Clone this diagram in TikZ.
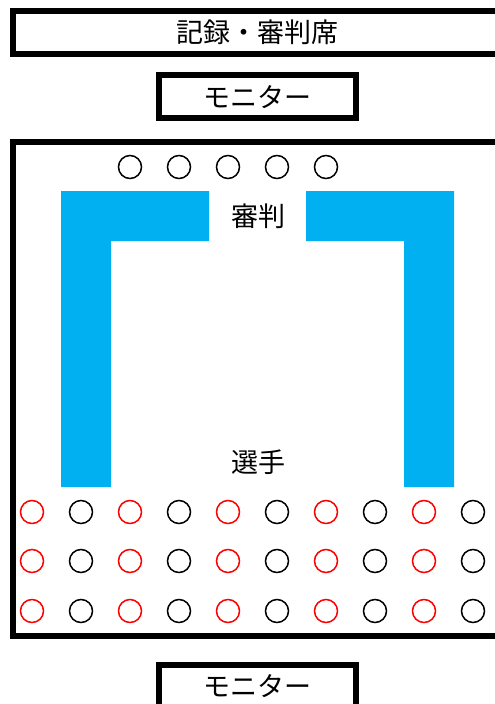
\documentclass[tikz,border=0pt]{standalone}
\usepackage{fontspec}
\newfontfamily\jpfont{Noto Sans CJK JP}
\definecolor{court}{HTML}{00B0F0}
\tikzset{
  wall/.style={line width=6pt},
  seat/.style={line width=1.5pt},
  jplabel/.style={font=\jpfont\fontsize{27}{30}\selectfont, inner sep=0pt}
}
\begin{document}
\begin{tikzpicture}[x=1pt,y=-1pt]
    \useasboundingbox (0,0) rectangle (495,704);
    \clip (0,0) rectangle (495,704);
    % record and referee desk
    \draw[wall] (13,11) rectangle (510,54);
    \node[jplabel] (desk) at (257,32) {記録・審判席};
    % monitors
    \draw[wall] (159,75) rectangle (355.5,118);
    \node[jplabel] (montop) at (257,97) {モニター};
    \draw[wall] (159,665) rectangle (355.5,720);
    \node[jplabel] (monbot) at (257,686) {モニター};
    % field
    \draw[wall] (510,142) -- (13,142) -- (13,636) -- (510,636);
    \fill[court] (61,191) -- (209,191) -- (209,241) -- (111,241) -- (111,487) -- (61,487) -- cycle;
    \fill[court] (454,191) -- (306,191) -- (306,241) -- (404,241) -- (404,487) -- (454,487) -- cycle;
    \node[jplabel] (judge) at (258,216) {審判};
    \node[jplabel] (player) at (258,462) {選手};
    % referees
    \foreach \x in {130,179,228,277,326}
        \draw[seat] (\x,167) circle[radius=11.5pt];
    % players
    \foreach \y in {512,561,611} {
        \foreach \x in {32,130,228,326,424}
            \draw[seat,red] (\x,\y) circle[radius=11.5pt];
        \foreach \x in {81,179,277,375,473}
            \draw[seat] (\x,\y) circle[radius=11.5pt];
    }
\end{tikzpicture}
\end{document}
